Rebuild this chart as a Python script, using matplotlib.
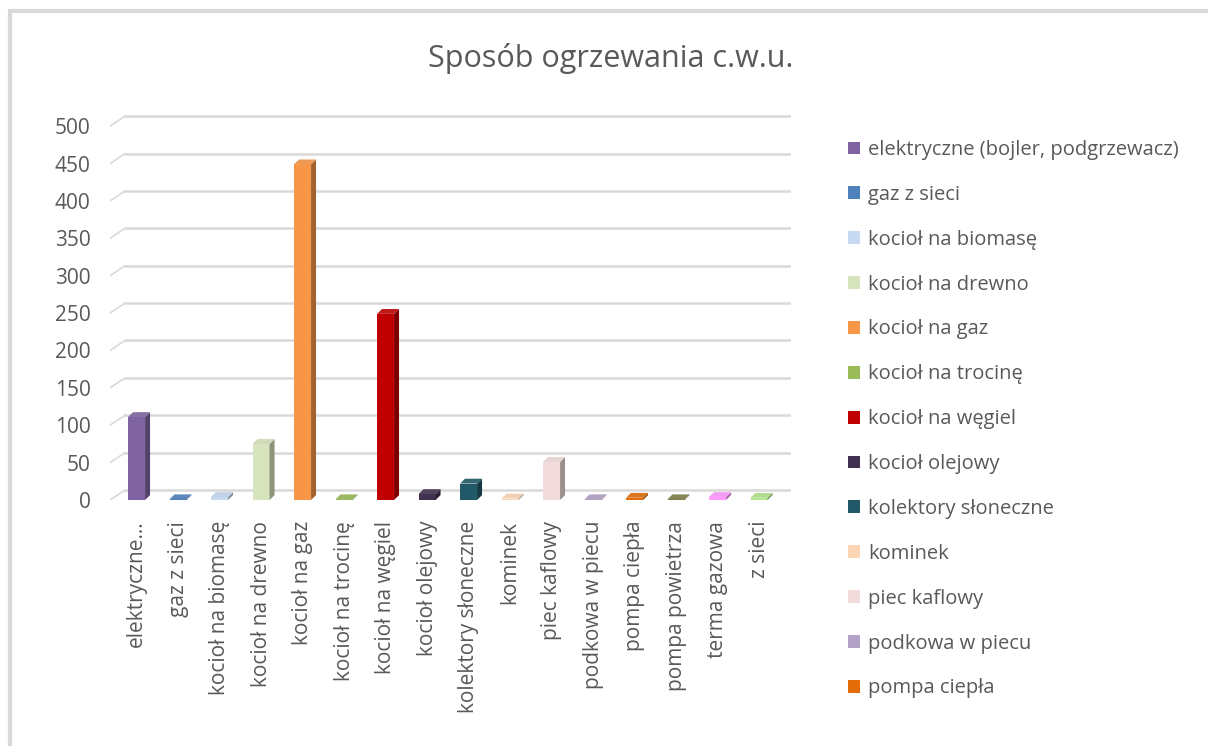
import numpy as np
import matplotlib.pyplot as plt
from matplotlib.patches import Patch, Polygon, Rectangle
from matplotlib.colors import to_rgb

plt.rcParams['font.family'] = ['Open Sans', 'DejaVu Sans']

categories = ['elektryczne (bojler, podgrzewacz)', 'gaz z sieci', 'kocioł na biomasę',
              'kocioł na drewno', 'kocioł na gaz', 'kocioł na trocinę', 'kocioł na węgiel',
              'kocioł olejowy', 'kolektory słoneczne', 'kominek', 'piec kaflowy',
              'podkowa w piecu', 'pompa ciepła', 'pompa powietrza', 'terma gazowa', 'z sieci']
tick_labels = ['elektryczne...', 'gaz z sieci', 'kocioł na biomasę', 'kocioł na drewno',
               'kocioł na gaz', 'kocioł na trocinę', 'kocioł na węgiel', 'kocioł olejowy',
               'kolektory słoneczne', 'kominek', 'piec kaflowy', 'podkowa w piecu',
               'pompa ciepła', 'pompa powietrza', 'terma gazowa', 'z sieci']
values = [111, 1, 4, 75, 449, 1, 249, 8, 22, 2, 51, 1, 3, 1, 4, 3]
colors = ['#8064A2', '#4F81BD', '#C6D9F1', '#D7E4BD', '#F79646', '#9BBB59', '#C00000',
          '#403151', '#215968', '#FCD5B5', '#F2DCDB', '#B3A2C7', '#E36C09', '#7F7F4A',
          '#FF99FF', '#B3E58B']
legend_count = 13  # legend box is cut off in the original
yticks = [0, 50, 100, 150, 200, 250, 300, 350, 400, 450, 500]

grey = '#595959'
fig = plt.figure(figsize=(12.08, 7.46), dpi=100)
fig.patches.append(Rectangle((10 / 1208, -0.01), 1.1, 1 - 11 / 746 + 0.01,
                             transform=fig.transFigure, fill=False,
                             edgecolor='#D9D9D9', linewidth=3))

ax = fig.add_axes([110 / 1208, 1 - 500 / 746, (791 - 110) / 1208, 385 / 746])
ax.set_xlim(-0.64, 15.77)
ax.set_ylim(0, 515)

depth_x, depth_y = 0.36, 13.4   # back wall offset
bx, by = 0.12, 6.5             # bar extrusion
width = 0.41

# back wall gridlines + diagonal floor lines
for v in yticks:
    ax.plot([-0.277, 15.77], [v + depth_y, v + depth_y], color='#D9D9D9', lw=1.8, zorder=1)
    ax.plot([-0.64, -0.277], [v, v + depth_y], color='#D9D9D9', lw=1.2, zorder=1)

x = np.arange(len(values))
for xi, v, c in zip(x, values, colors):
    r, g, b = to_rgb(c)
    dark = (r * 0.65, g * 0.65, b * 0.65)
    light = (min(1, r * 0.85 + 0.1), min(1, g * 0.85 + 0.1), min(1, b * 0.85 + 0.1))
    x0, x1 = xi - width / 2, xi + width / 2
    ax.bar(xi, v, width=width, color=c, zorder=3)
    ax.add_patch(Polygon([[x1, 0], [x1 + bx, by], [x1 + bx, v + by], [x1, v]],
                         closed=True, facecolor=dark, edgecolor='none', zorder=3))
    ax.add_patch(Polygon([[x0, v], [x0 + bx, v + by], [x1 + bx, v + by], [x1, v]],
                         closed=True, facecolor=light, edgecolor='none', zorder=3))

ax.set_xticks(x)
ax.set_xticklabels(tick_labels, rotation=90, ha='center', va='top', fontsize=15, color=grey)
ax.set_yticks(yticks)
ax.set_yticklabels([str(t) for t in yticks], fontsize=15, color=grey)
ax.tick_params(axis='both', length=0)
ax.tick_params(axis='y', pad=14)
ax.tick_params(axis='x', pad=15)
for s in ax.spines.values():
    s.set_visible(False)

fig.text(611 / 1208, 1 - 58 / 746, 'Sposób ogrzewania c.w.u.', ha='center', va='center',
         fontsize=22, color=grey)

handles = [Patch(facecolor=colors[i], edgecolor='none') for i in range(legend_count)]
fig.legend(handles, categories[:legend_count], loc='upper left',
           bbox_to_anchor=(848 / 1208, 1 - 140 / 746), frameon=False,
           fontsize=14.5, labelcolor=grey, handlelength=0.6, handleheight=0.6,
           handletextpad=0.4, labelspacing=1.235, borderpad=0, borderaxespad=0)

fig.savefig('out.png', dpi=100)
